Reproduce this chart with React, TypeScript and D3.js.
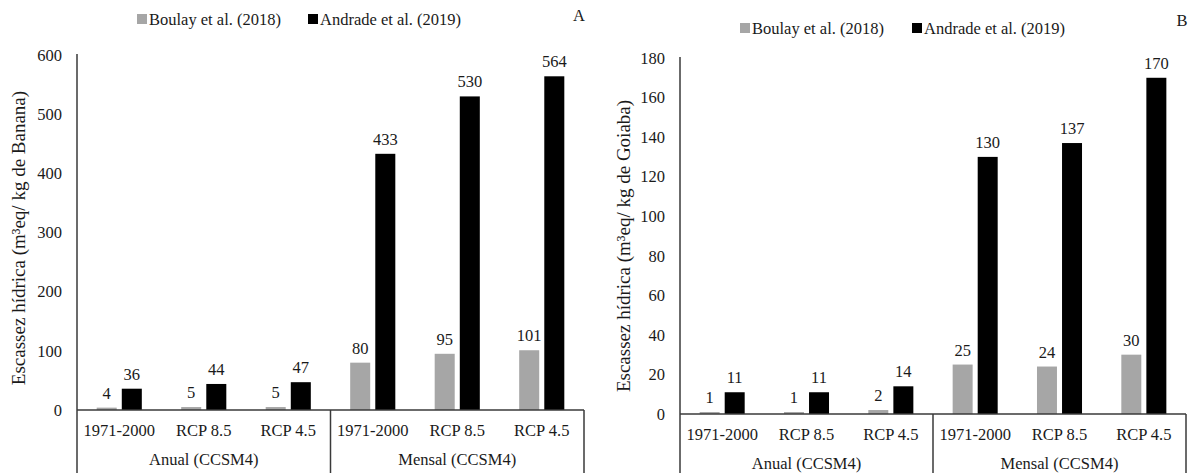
import React from "react";
import * as d3 from "d3";

const categories = ["1971-2000", "RCP 8.5", "RCP 4.5", "1971-2000", "RCP 8.5", "RCP 4.5"];
const groups = ["Anual (CCSM4)", "Mensal (CCSM4)"];
const seriesNames = ["Boulay et al. (2018)", "Andrade et al. (2019)"];
const seriesColors = ["#a6a6a6", "#000000"];

const bananaBoulay = [4, 5, 5, 80, 95, 101];
const bananaAndrade = [36, 44, 47, 433, 530, 564];
const goiabaBoulay = [1, 1, 2, 25, 24, 30];
const goiabaAndrade = [11, 11, 14, 130, 137, 170];

const ticksA = [0, 100, 200, 300, 400, 500, 600];
const ticksB = [0, 20, 40, 60, 80, 100, 120, 140, 160, 180];

const FONT = "Liberation Serif, Tinos, Times New Roman, Times, DejaVu Serif, serif";
const FS = 16.5;
const TITLE_FS = 19;
const AXIS = "#3a3a3a";
const TEXT = "#1a1a1a";

type PanelProps = {
  left: number;
  right: number;
  zeroY: number;
  topY: number;
  ticks: number[];
  s1: number[];
  s2: number[];
  title: string;
  titleX: number;
  titleY: number;
  legendY: number;
  legendX: [number, number];
  letter: string;
  letterX: number;
  letterY: number;
};

function Panel(p: PanelProps) {
  const yMax = p.ticks[p.ticks.length - 1];
  const x = d3.scaleBand<number>().domain(d3.range(categories.length)).range([p.left, p.right]).padding(0);
  const y = d3.scaleLinear().domain([0, yMax]).range([p.zeroY, p.topY]);
  const bw = x.bandwidth();
  const barW = bw * 0.237;
  const gap = bw * 0.06;
  const bottom = 473;
  const mid = (p.left + p.right) / 2;
  const series = [p.s1, p.s2];
  return (
    <g style={{ fontFamily: FONT }} fill={TEXT}>
      {seriesNames.map((n, i) => (
        <g key={n}>
          <rect x={p.legendX[i]} y={p.legendY - 5} width={10} height={10} fill={seriesColors[i]} />
          <text x={p.legendX[i] + 12} y={p.legendY} dy="0.35em" fontSize={FS}>
            {n}
          </text>
        </g>
      ))}
      <text x={p.letterX} y={p.letterY} dy="0.35em" fontSize={FS} textAnchor="middle">
        {p.letter}
      </text>
      <text
        transform={`translate(${p.titleX},${p.titleY}) rotate(-90)`}
        textAnchor="middle"
        dy="0.35em"
        fontSize={TITLE_FS}
      >
        {p.title}
      </text>
      {p.ticks.map((t) => (
        <text key={t} x={p.left - 15} y={y(t)} dy="0.35em" textAnchor="end" fontSize={FS}>
          {t}
        </text>
      ))}
      {categories.map((c, i) => {
        const cx = (x(i) as number) + bw / 2;
        return (
          <g key={i}>
            {series.map((s, k) => {
              const bx = k === 0 ? cx - gap / 2 - barW : cx + gap / 2;
              const top = y(s[i]);
              return (
                <g key={k}>
                  <rect x={bx} y={top} width={barW} height={p.zeroY - top} fill={seriesColors[k]} />
                  <text x={bx + barW / 2} y={top - 9} textAnchor="middle" fontSize={FS}>
                    {s[i]}
                  </text>
                </g>
              );
            })}
            <text x={cx} y={p.zeroY + 20} dy="0.35em" textAnchor="middle" fontSize={FS}>
              {c}
            </text>
          </g>
        );
      })}
      {groups.map((g, gi) => (
        <text
          key={g}
          x={gi === 0 ? (p.left + mid) / 2 : (mid + p.right) / 2}
          y={p.zeroY + 49}
          dy="0.35em"
          textAnchor="middle"
          fontSize={FS}
        >
          {g}
        </text>
      ))}
      <line x1={p.left} x2={p.left} y1={p.topY - 1} y2={bottom} stroke={AXIS} strokeWidth={1.5} />
      <line x1={p.left} x2={p.right} y1={p.zeroY} y2={p.zeroY} stroke={AXIS} strokeWidth={1.5} />
      <line x1={mid} x2={mid} y1={p.zeroY} y2={bottom} stroke={AXIS} strokeWidth={1.5} />
      <line x1={p.right} x2={p.right} y1={p.zeroY} y2={bottom} stroke={AXIS} strokeWidth={1.5} />
    </g>
  );
}

export default function App() {
  return (
    <svg
      width={1189}
      height={473}
      style={{ position: "absolute", left: 0, top: 0, background: "#fff" }}
    >
      <rect width={1189} height={473} fill="#fff" />
      <Panel
        left={77}
        right={584}
        zeroY={410}
        topY={55}
        ticks={ticksA}
        s1={bananaBoulay}
        s2={bananaAndrade}
        title="Escassez hídrica (m³eq/ kg de Banana)"
        titleX={18}
        titleY={238}
        legendY={19}
        legendX={[137, 308]}
        letter="A"
        letterX={579}
        letterY={15}
      />
      <Panel
        left={680}
        right={1186}
        zeroY={414}
        topY={58}
        ticks={ticksB}
        s1={goiabaBoulay}
        s2={goiabaAndrade}
        title="Escassez hídrica (m³eq/ kg de Goiaba)"
        titleX={623}
        titleY={246}
        legendY={28}
        legendX={[740, 912]}
        letter="B"
        letterX={1182}
        letterY={20}
      />
    </svg>
  );
}
